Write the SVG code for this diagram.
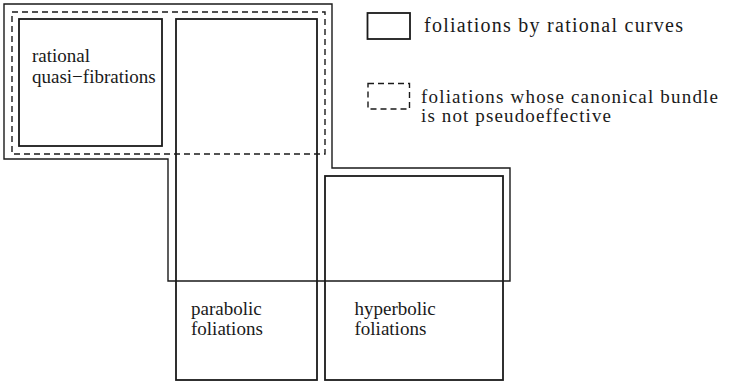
<svg xmlns="http://www.w3.org/2000/svg" width="734" height="383" viewBox="0 0 734 383">
<style>
.s{fill:none;stroke:#1a1a1a;stroke-width:1.8}
.o{fill:none;stroke:#1a1a1a;stroke-width:1.4}
.d{fill:none;stroke:#1a1a1a;stroke-width:1.4;stroke-dasharray:6 4}
text{fill:#1a1a1a;font-family:"Liberation Serif","Times New Roman",serif}
.b{font-size:19px}
.l{font-size:20px}
.l2{font-size:19px}
</style>
<rect width="734" height="383" fill="#fff"/>
<g id="connectors"></g>
<g id="rational-curves">
<polygon class="o" points="4,4 332,4 332,168 510,168 510,281 168,281 168,159 4,159"/>
</g>
<g id="not-pseudoeffective">
<rect class="d" x="12" y="12" width="313" height="142"/>
</g>
<g id="quasi-fibrations">
<rect class="s" x="19" y="19" width="143" height="127"/>
<text class="b" x="32" y="61.5">rational</text>
<text class="b" x="32" y="82.5">quasi−fibrations</text>
</g>
<g id="parabolic">
<rect class="s" x="176" y="19" width="141" height="361"/>
<text class="b" x="191" y="315">parabolic</text>
<text class="b" x="191" y="335">foliations</text>
</g>
<g id="hyperbolic">
<rect class="s" x="325" y="176" width="178" height="204"/>
<text class="b" x="354.5" y="315">hyperbolic</text>
<text class="b" x="354.5" y="335">foliations</text>
</g>
<g id="legend">
<rect class="s" x="367.5" y="13" width="42.5" height="26"/>
<text class="l" x="424" y="31.5" textLength="259">foliations by rational curves</text>
<rect class="d" x="368" y="83.5" width="41.5" height="25.5" stroke-dasharray="6 5"/>
<text class="l2" x="421" y="103" textLength="297">foliations whose canonical bundle</text>
<text class="l2" x="421" y="122" textLength="190">is not pseudoeffective</text>
</g>
</svg>
